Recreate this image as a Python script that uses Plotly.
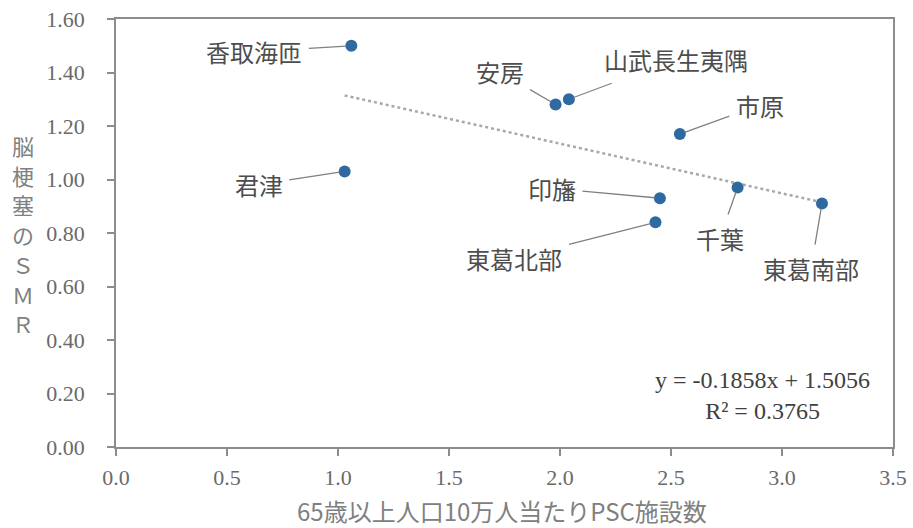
import plotly.graph_objects as go

# ---- data ----
regions = ["香取海匝", "君津", "安房", "山武長生夷隅", "市原", "印旛", "東葛北部", "千葉", "東葛南部"]
psc_per_100k = [1.06, 1.03, 1.98, 2.04, 2.54, 2.45, 2.43, 2.80, 3.18]
stroke_smr = [1.50, 1.03, 1.28, 1.30, 1.17, 0.93, 0.84, 0.97, 0.91]
trend_slope = -0.1858
trend_intercept = 1.5056
r_squared = 0.3765
x_ticks = [0.0, 0.5, 1.0, 1.5, 2.0, 2.5, 3.0, 3.5]
y_ticks = [0.0, 0.2, 0.4, 0.6, 0.8, 1.0, 1.2, 1.4, 1.6]
y_title_chars = list("脳梗塞のＳＭＲ")
x_title = "65歳以上人口10万人当たりPSC施設数"

# label offsets (pixels) for leader-line callouts
label_offsets = {
    "香取海匝": (-97, 6),
    "君津": (-86, 13),
    "安房": (-56, -33),
    "山武長生夷隅": (107, -40),
    "市原": (80, -29),
    "印旛": (-108, -10),
    "東葛北部": (-141, 36),
    "千葉": (-18, 51),
    "東葛南部": (-11, 65),
}

serif = "Liberation Serif, Times New Roman, serif"
cjk = "Noto Sans CJK JP, sans-serif"
axis_grey = "#8c8c8c"
tick_grey = "#6a6a6a"

L, R, T, B = 116, 20, 19, 81
PW, PH = 913 - L - R, 528 - T - B

fig = go.Figure()

# trendline
tx = [min(psc_per_100k), max(psc_per_100k)]
ty = [trend_slope * v + trend_intercept for v in tx]
fig.add_trace(go.Scatter(
    x=tx, y=ty, mode="lines",
    line=dict(color="#a8a8a8", width=2.5, dash="dot"),
    hoverinfo="skip", showlegend=False,
))

# points
fig.add_trace(go.Scatter(
    x=psc_per_100k, y=stroke_smr, mode="markers",
    marker=dict(color="#2e6a9f", size=12),
    text=regions, showlegend=False,
))

# callout labels
for name, xv, yv in zip(regions, psc_per_100k, stroke_smr):
    ax, ay = label_offsets[name]
    fig.add_annotation(
        x=xv, y=yv, text=name, showarrow=True, arrowhead=0,
        arrowwidth=1.3, arrowcolor="#808080", ax=ax, ay=ay,
        standoff=5, borderpad=6,
        font=dict(family=cjk, size=24, color="#4d4d4d"),
    )

# equation annotation
fig.add_annotation(
    xref="paper", yref="paper", x=(762 - L) / PW, y=(447 - 395) / PH,
    text=f"y = {trend_slope:.4f}x + {trend_intercept:.4f}<br>R² = {r_squared:.4f}",
    showarrow=False, align="center", xanchor="center", yanchor="middle",
    font=dict(family=serif, size=24, color="#404040"),
)

# vertical y-axis title, one character per row
for i, ch in enumerate(y_title_chars):
    cy = 145 + i * 29.7
    fig.add_annotation(
        xref="paper", yref="paper", x=(23 - L) / PW, y=(447 - cy) / PH,
        text=ch, showarrow=False, xanchor="center", yanchor="middle",
        font=dict(family=cjk, size=22, color="#808080"),
    )

# x-axis title
fig.add_annotation(
    xref="paper", yref="paper", x=(502 - L) / PW, y=(447 - 510) / PH,
    text=x_title, showarrow=False,
    xanchor="center", yanchor="middle",
    font=dict(family=cjk, size=24, color="#808080"),
)

fig.update_layout(
    width=913, height=528,
    margin=dict(l=L, r=R, t=T, b=B),
    paper_bgcolor="white", plot_bgcolor="white",
    showlegend=False,
    xaxis=dict(
        range=[0, 3.5], tickvals=x_ticks, ticktext=[f"{v:.1f}" for v in x_ticks],
        showgrid=False, zeroline=False, automargin=False,
        showline=True, linecolor=axis_grey, linewidth=1.5, mirror=True,
        ticks="outside", ticklen=7, tickcolor=axis_grey, tickwidth=1.5,
        tickfont=dict(family=serif, size=22, color=tick_grey),
        ticklabelstandoff=3,
    ),
    yaxis=dict(
        range=[0, 1.6], tickvals=y_ticks, ticktext=[f"{v:.2f}" for v in y_ticks],
        showgrid=False, zeroline=False, automargin=False,
        showline=True, linecolor=axis_grey, linewidth=1.5, mirror=True,
        ticks="outside", ticklen=7, tickcolor=axis_grey, tickwidth=1.5,
        tickfont=dict(family=serif, size=22, color=tick_grey),
        ticklabelstandoff=18,
    ),
)

fig.write_html("out.html", config={"displayModeBar": False},
               post_script="document.body.style.margin='0';")
